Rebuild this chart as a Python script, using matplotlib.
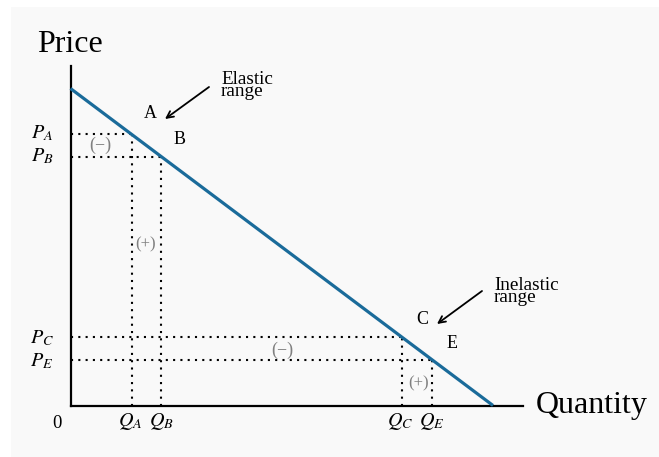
import matplotlib
matplotlib.use("Agg")
import matplotlib.pyplot as plt
from matplotlib.patches import Rectangle, FancyArrowPatch

plt.rcParams['font.family'] = ['Liberation Serif', 'DejaVu Serif']
plt.rcParams['mathtext.fontset'] = 'stix'

# Data: linear demand P = intercept - slope*Q
demand_q = [0.0, 10.0]
demand_p = [10.0, 0.0]
point_names = ['A', 'B', 'C', 'E']
point_q = [1.45, 2.15, 7.85, 8.55]
point_p = [8.55, 7.85, 2.15, 1.45]
p_labels = ['$P_A$', '$P_B$', '$P_C$', '$P_E$']
q_labels = ['$Q_A$', '$Q_B$', '$Q_C$', '$Q_E$']

W, H = 659, 457
fig = plt.figure(figsize=(W / 100, H / 100), dpi=100, facecolor='white')
fig.patches.append(Rectangle((11 / W, 0), 1 - 11 / W, 1 - 7 / H,
                             transform=fig.transFigure, facecolor='#f9f9f9',
                             edgecolor='none', zorder=-10))

ax = fig.add_axes([70.5 / W, (H - 405.5) / H, 452.5 / W, 339.5 / H])
ax.set_facecolor('none')
ax.set_xlim(0, 10.71)
ax.set_ylim(0, 10.71)
for s in ['top', 'right']:
    ax.spines[s].set_visible(False)
for s in ['left', 'bottom']:
    ax.spines[s].set_linewidth(1.6)
    ax.spines[s].set_color('black')
ax.set_xticks([])
ax.set_yticks([])

dot = (0, (1, 2.5))
for q, p in zip(point_q, point_p):
    ax.plot([0, q], [p, p], color='black', lw=1.5, linestyle=dot, zorder=2)
    ax.plot([q, q], [0, p], color='black', lw=1.5, linestyle=dot, zorder=2)

ax.plot(demand_q, demand_p, color='#1a6b9a', lw=2.3, zorder=3,
        solid_capstyle='butt', clip_on=False)

px = lambda x: x / W
py = lambda y: 1 - y / H

# axis titles
fig.text(px(37), py(45), 'Price', fontsize=23, va='center', ha='left')
fig.text(px(536), py(406), 'Quantity', fontsize=23, va='center', ha='left')

# tick-like labels
p_label_y = [133, 156, 338, 361]
for lab, y in zip(p_labels, p_label_y):
    fig.text(px(42), py(y), lab, fontsize=14.5, va='center', ha='center')
q_label_x = [130, 161, 400, 432]
for lab, x in zip(q_labels, q_label_x):
    fig.text(px(x), py(422), lab, fontsize=14.5, va='center', ha='center')
fig.text(px(57), py(423), '0', fontsize=13.5, va='center', ha='center')

# point letters
letter_xy = [(150, 114), (180, 139), (422, 320), (452, 343)]
for name, (x, y) in zip(point_names, letter_xy):
    fig.text(px(x), py(y), name, fontsize=13, va='center', ha='center')

# gain/loss annotations
gray = '#808080'
fig.text(px(100), py(145), '(−)', fontsize=13, color=gray, va='center', ha='center')
fig.text(px(146), py(244), '(+)', fontsize=12, color=gray, va='center', ha='center')
fig.text(px(282), py(350), '(−)', fontsize=13, color=gray, va='center', ha='center')
fig.text(px(419), py(383), '(+)', fontsize=12, color=gray, va='center', ha='center')

# range notes with arrows
note_fs = 13.8
fig.text(px(221), py(71), 'Elastic\nrange', fontsize=note_fs, va='top', ha='left',
         linespacing=0.63)
fig.text(px(494), py(277), 'Inelastic\nrange', fontsize=note_fs, va='top', ha='left',
         linespacing=0.63)
arrow = dict(arrowstyle='->', color='black', lw=1.3, mutation_scale=12,
             shrinkA=0, shrinkB=0)
fig.add_artist(FancyArrowPatch((px(209), py(87)), (px(165), py(119)),
               transform=fig.transFigure, **arrow))
fig.add_artist(FancyArrowPatch((px(482), py(291)), (px(437), py(324)),
               transform=fig.transFigure, **arrow))

fig.savefig('out.png', dpi=100, facecolor='white')
